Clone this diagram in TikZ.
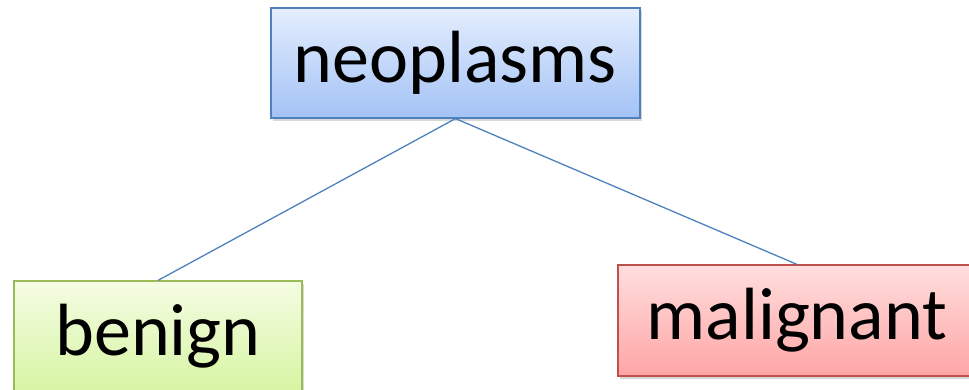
\documentclass[tikz,border=0pt]{standalone}
\usepackage{fontspec}
\setmainfont{Carlito}
\usepackage{xcolor}
\usepackage{tikz}
\usetikzlibrary{shadows}
\definecolor{bluetop}{HTML}{E4EEFD}
\definecolor{bluebot}{HTML}{A3C2F6}
\definecolor{blueedge}{HTML}{4F81BD}
\definecolor{greentop}{HTML}{F5FCE3}
\definecolor{greenbot}{HTML}{D6F5A3}
\definecolor{greenedge}{HTML}{9BBB59}
\definecolor{redtop}{HTML}{FFDEDE}
\definecolor{redbot}{HTML}{FFA5A5}
\definecolor{rededge}{HTML}{C0504D}
\tikzset{
  box/.style={rectangle, line width=1.2pt, minimum height=110pt, inner sep=0pt,
    font=\fontsize{74}{80}\selectfont, text=black,
    drop shadow={shadow xshift=2pt, shadow yshift=-3pt, opacity=0.3}},
  bluebox/.style={box, draw=blueedge, top color=bluetop, bottom color=bluebot},
  greenbox/.style={box, draw=greenedge, top color=greentop, bottom color=greenbot},
  redbox/.style={box, draw=rededge, top color=redtop, bottom color=redbot},
  link/.style={draw=blueedge, line width=1.3pt},
}
\begin{document}
\begin{tikzpicture}[x=1pt,y=1pt]
  \useasboundingbox (0,0) rectangle (969,-390);
  \node[bluebox, minimum width=369pt] (neo) at (455.5,-63) {neoplasms};
  \node[greenbox, minimum width=288pt] (ben) at (158,-336) {benign};
  \node[redbox, minimum width=358pt, minimum height=111pt] (mal) at (797,-320.5) {malignant};
  \draw[link] (neo.south) -- (ben.north);
  \draw[link] (neo.south) -- (mal.north);
\end{tikzpicture}
\end{document}
